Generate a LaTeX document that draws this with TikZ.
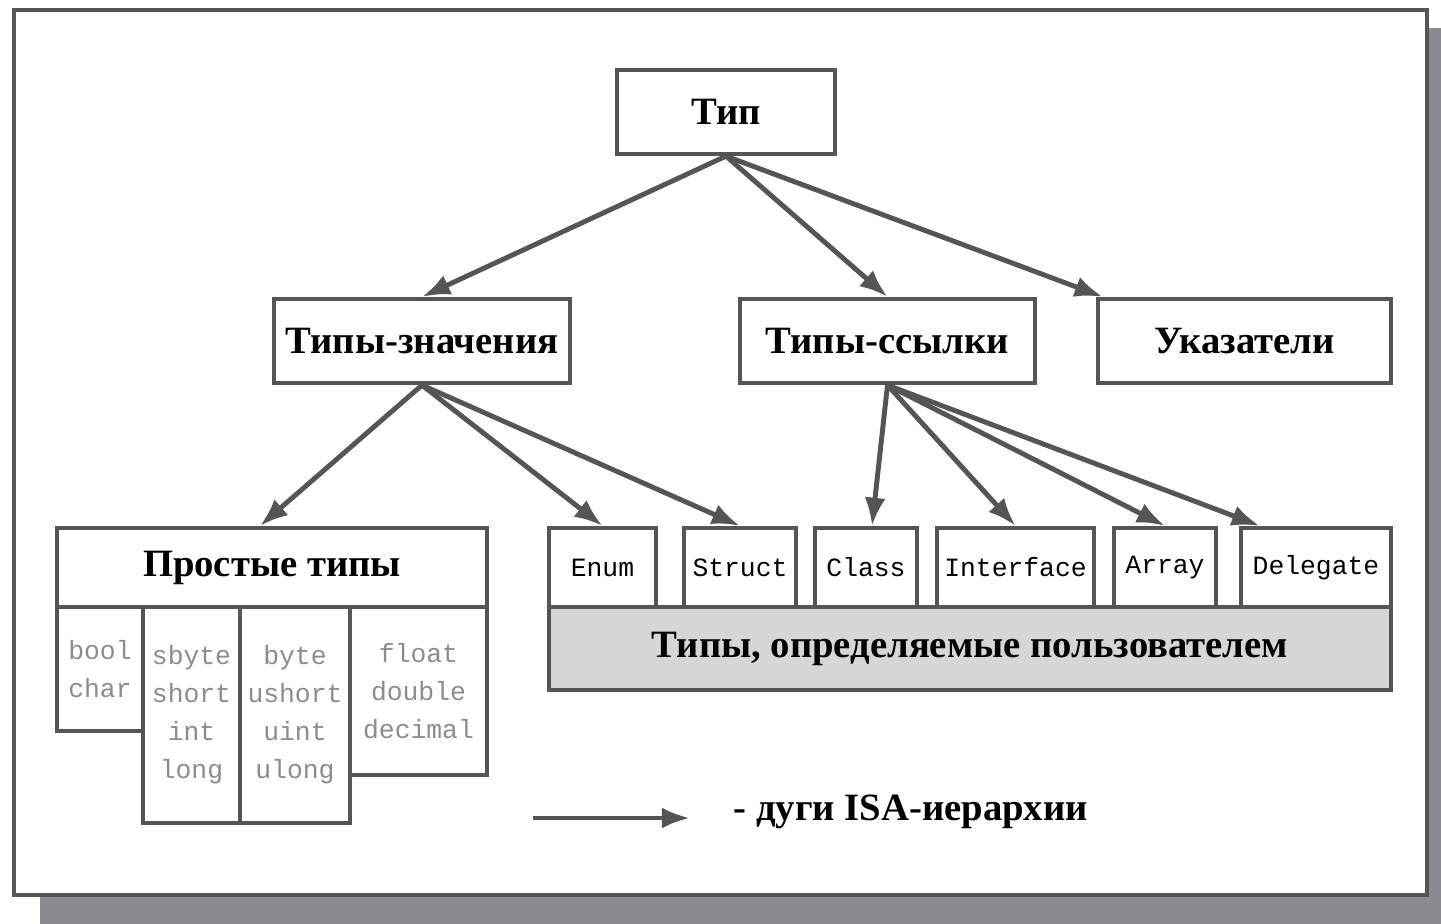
\documentclass[tikz,border=0pt]{standalone}
\usepackage{fontspec}
\setmainfont{Liberation Serif}
\setmonofont{Liberation Mono}
\usetikzlibrary{arrows.meta}

\definecolor{linegray}{RGB}{85,85,85}
\definecolor{shadegray}{RGB}{138,138,144}
\definecolor{bargray}{RGB}{214,214,214}
\definecolor{textgray}{RGB}{140,140,140}

\begin{document}
\begin{tikzpicture}[x = 0.01cm, y = -0.01cm, > = {Latex[length = 8pt, width = 6pt]},
	box/.style = {draw = linegray, line width = 1.2pt, fill = white, inner sep = 0pt, font = \fontsize{11}{13}\selectfont\bfseries},
	codebox/.style = {box, font = \fontsize{7.5}{9}\selectfont\ttfamily},
	basebox/.style = {box, font = \fontsize{7.5}{10.8}\selectfont\ttfamily, text = textgray, align = center},
	isa/.style = {->, draw = linegray, line width = 1.4pt}]

	\useasboundingbox (0, 0) rectangle (1441, 924);

	% Frame
	
	\fill [shadegray] (40, 28) rectangle (1441, 924);
	\draw [linegray, line width = 1.2pt, fill = white] (14, 10) rectangle (1427, 895);
	
	% Upper levels
	
	\node [box, minimum width = 2.18cm, minimum height = 0.84cm] (tip) at (726, 112) {Тип};
	\node [box, minimum width = 2.96cm, minimum height = 0.84cm] (values) at (422, 341) {Типы-значения};
	\node [box, minimum width = 2.95cm, minimum height = 0.84cm] (refs) at (887.5, 341) {Типы-ссылки};
	\node [box, minimum width = 2.93cm, minimum height = 0.84cm] (ptrs) at (1244.5, 341) {Указатели};
	
	% Simple types
	
	\node [box, minimum width = 4.30cm, minimum height = 0.79cm] (simple) at (272, 567.5) {Простые типы};
	\node [basebox, minimum width = 0.86cm, minimum height = 1.24cm] (boolbox) at (100, 669) {bool\\char};
	\node [basebox, minimum width = 0.97cm, minimum height = 2.16cm] (sbytebox) at (191.5, 715) {sbyte\\short\\int\\long};
	\node [basebox, minimum width = 1.10cm, minimum height = 2.16cm] (bytebox) at (295, 715) {byte\\ushort\\uint\\ulong};
	\node [basebox, minimum width = 1.37cm, minimum height = 1.68cm] (floatbox) at (418.5, 691) {float\\double\\decimal};
	
	% User defined types
	
	\node [box, fill = bargray, minimum width = 8.42cm, minimum height = 0.83cm] (user) at (970, 648.5) {Типы, определяемые пользователем};
	\node [codebox, minimum width = 1.07cm, minimum height = 0.79cm] (enum) at (602.5, 567.5) {Enum};
	\node [codebox, minimum width = 1.12cm, minimum height = 0.79cm] (struct) at (740, 567.5) {Struct};
	\node [codebox, minimum width = 1.02cm, minimum height = 0.79cm] (class) at (866, 567.5) {Class};
	\node [codebox, minimum width = 1.57cm, minimum height = 0.79cm] (iface) at (1015.5, 567.5) {Interface};
	\node [codebox, minimum width = 1.02cm, minimum height = 0.79cm] (array) at (1165, 567.5) {Array};
	\node [codebox, minimum width = 1.50cm, minimum height = 0.79cm] (delegate) at (1316, 567.5) {Delegate};
	
	% ISA arcs
	
	\draw [isa] (tip.south) -- (values.north);
	\draw [isa] (tip.south) -- (refs.north);
	\draw [isa] (tip.south) -- ([xshift = 0.07cm] ptrs.north west);
	
	\draw [isa] (values.south) -- ([xshift = -0.12cm] simple.north);
	\draw [isa] (values.south) -- (enum.north);
	\draw [isa] (values.south) -- (struct.north);
	
	\draw [isa] (refs.south) -- ([xshift = 0.06cm] class.north);
	\draw [isa] (refs.south) -- (iface.north);
	\draw [isa] (refs.south) -- (array.north);
	\draw [isa] (refs.south) -- ([xshift = 0.21cm] delegate.north west);
	
	% Legend
	
	\coordinate (legstart) at (533, 818);
	\coordinate (legend) at (690, 818);
	\draw [isa] (legstart) -- (legend);
	\node [anchor = west, inner sep = 0pt, font = \fontsize{11}{13}\selectfont\bfseries] (legtext) at (733, 812) {- дуги ISA-иерархии};

\end{tikzpicture}
\end{document}
